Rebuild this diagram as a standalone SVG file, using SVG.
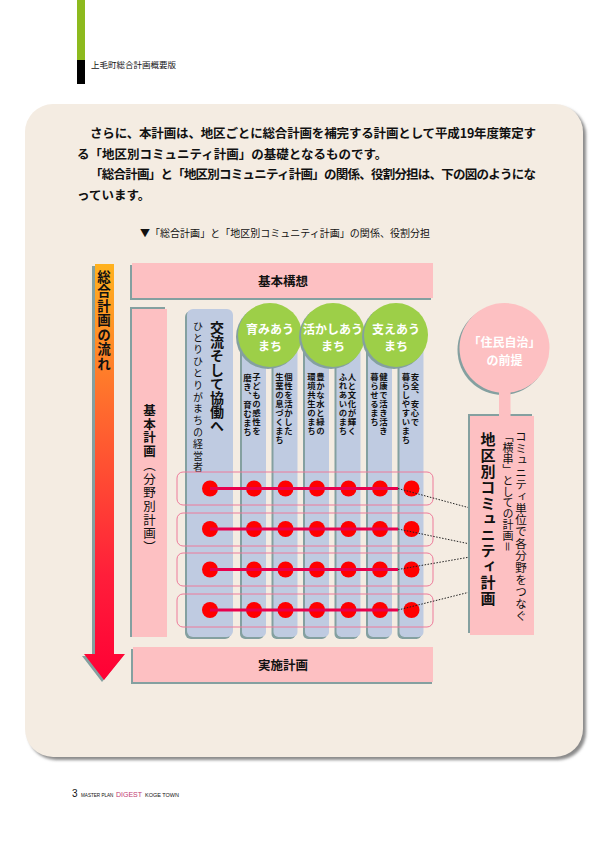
<svg xmlns="http://www.w3.org/2000/svg" width="605" height="842" viewBox="0 0 605 842">
<defs>
  <linearGradient id="flow" x1="0" y1="0" x2="0" y2="1">
    <stop offset="0" stop-color="#FFB21E"/>
    <stop offset="0.35" stop-color="#FF6A2E"/>
    <stop offset="0.75" stop-color="#FF1E3A"/>
    <stop offset="1" stop-color="#FF0035"/>
  </linearGradient>
  <filter id="blur" x="-5%" y="-5%" width="110%" height="110%">
    <feGaussianBlur stdDeviation="1.6"/>
  </filter>
</defs>
<style>
  text { font-family: "Noto Sans CJK JP", "Noto Sans", sans-serif; fill: #111; }
  .v { writing-mode: vertical-rl; }
  .b { font-weight: bold; }
  .pink { fill: #FDC0C2; }
  .blue { fill: #BFCBE1; }
  .green { fill: #9DCF48; }
  .shadow { fill: #84A0A0; }
  .dot { fill: #FF0000; }
  .wt { fill: #FFFFFF; font-weight: bold; font-size: 12px; text-anchor: middle; }
  .sm { font-size: 8.4px; font-weight: bold; letter-spacing: 0.6px; }
  .row { fill: none; stroke: #EE7A9A; stroke-width: 1; }
  .link { stroke: #E8004D; stroke-width: 3; fill: none; }
  .dash { stroke: #222; stroke-width: 1; stroke-dasharray: 1.5 1.5; fill: none; }
  .ft { font-family: "Liberation Sans", sans-serif; }
</style>
<rect width="605" height="842" fill="#FFFFFF"/>

<g id="header">
  <rect x="77" y="0" width="8" height="60" fill="#8DBA1E"/>
  <rect x="77" y="60" width="8" height="24" fill="#000000"/>
  <text x="91" y="68" font-size="8.5">上毛町総合計画概要版</text>
</g>

<g id="panel">
  <rect x="28" y="107" width="558" height="653" rx="28" fill="#8A8A8A" filter="url(#blur)"/>
  <rect x="25" y="104" width="558" height="653" rx="28" fill="#F4ECE2"/>
</g>

<g id="intro" font-size="12.5" font-weight="bold">
  <text x="90" y="138" textLength="446" lengthAdjust="spacing">さらに、本計画は、地区ごとに総合計画を補完する計画として平成19年度策定す</text>
  <text x="77" y="158.5">る「地区別コミュニティ計画」の基礎となるものです。</text>
  <text x="90" y="179" textLength="446" lengthAdjust="spacing">「総合計画」と「地区別コミュニティ計画」の関係、役割分担は、下の図のようにな</text>
  <text x="77" y="199.5">っています。</text>
</g>

<g id="caption">
  <text x="140" y="237" font-size="10" textLength="290" lengthAdjust="spacing">▼「総合計画」と「地区別コミュニティ計画」の関係、役割分担</text>
</g>

<g id="flow-arrow">
  <path class="shadow" d="M92,266 H112 V656 H123 L102,682 L82,656 H92 Z"/>
  <path fill="url(#flow)" d="M95,264 H114 V654 H125 L104,680 L84,654 H95 Z"/>
  <text class="v b" x="104" y="270" font-size="13.5" letter-spacing="1">総合計画の流れ</text>
</g>

<g id="kihon-koso">
  <rect class="shadow" x="130" y="265" width="301" height="35"/>
  <rect class="pink" x="132" y="263" width="301" height="35"/>
  <text class="b" x="283" y="285.5" font-size="12.5" text-anchor="middle">基本構想</text>
</g>

<g id="kihon-keikaku">
  <rect class="shadow" x="130" y="307" width="35" height="330"/>
  <rect class="pink" x="132" y="309" width="35" height="328"/>
  <text class="v" x="149.5" y="404" font-size="12.5" letter-spacing="1.2"><tspan font-weight="bold">基本計画</tspan>（分野別計画）</text>
</g>

<g id="jisshi-keikaku">
  <rect class="shadow" x="131" y="649" width="301" height="35"/>
  <rect class="pink" x="133" y="647" width="300" height="35"/>
  <text class="b" x="283" y="669.5" font-size="12.5" text-anchor="middle">実施計画</text>
</g>

<g id="col-kouryu">
  <rect class="shadow" x="185" y="311" width="46" height="328" rx="6"/>
  <rect class="blue" x="187" y="309" width="46" height="328" rx="6"/>
  <text class="v b" x="217" y="321" font-size="14">交流そして協働へ</text>
  <text class="v" x="198" y="321" font-size="10" letter-spacing="1.8">ひとりひとりがまちの経営者</text>
</g>

<g id="columns">
  <g id="col-2">
    <rect class="shadow" x="240" y="332" width="24" height="307" rx="5"/>
    <rect class="blue" x="242" y="330" width="24" height="307" rx="5"/>
    <text class="v sm" x="256.5" y="373">子どもの感性を</text>
    <text class="v sm" x="247.5" y="374">磨き、育むまち</text>
  </g>
  <g id="col-3">
    <rect class="shadow" x="271.5" y="332" width="24" height="307" rx="5"/>
    <rect class="blue" x="273.5" y="330" width="24" height="307" rx="5"/>
    <text class="v sm" x="288.5" y="373">個性を活かした</text>
    <text class="v sm" x="279.5" y="373">生業の息づくまち</text>
  </g>
  <g id="col-4">
    <rect class="shadow" x="303" y="332" width="24" height="307" rx="5"/>
    <rect class="blue" x="305" y="330" width="24" height="307" rx="5"/>
    <text class="v sm" x="320.5" y="373">豊かな水と緑の</text>
    <text class="v sm" x="311.5" y="373">環境共生のまち</text>
  </g>
  <g id="col-5">
    <rect class="shadow" x="334.5" y="332" width="24" height="307" rx="5"/>
    <rect class="blue" x="336.5" y="330" width="24" height="307" rx="5"/>
    <text class="v sm" x="352" y="373">人と文化が輝く</text>
    <text class="v sm" x="343" y="373">ふれあいのまち</text>
  </g>
  <g id="col-6">
    <rect class="shadow" x="366" y="332" width="24" height="307" rx="5"/>
    <rect class="blue" x="368" y="330" width="24" height="307" rx="5"/>
    <text class="v sm" x="383.5" y="373">健康で活き活き</text>
    <text class="v sm" x="374.5" y="373">暮らせるまち</text>
  </g>
  <g id="col-7">
    <rect class="shadow" x="397.5" y="332" width="24" height="307" rx="5"/>
    <rect class="blue" x="399.5" y="330" width="24" height="307" rx="5"/>
    <text class="v sm" x="415" y="373">安全、安心で</text>
    <text class="v sm" x="406" y="373">暮らしやすいまち</text>
  </g>
</g>

<g id="circle-hagukumi">
  <circle class="shadow" cx="268" cy="337" r="32"/>
  <circle class="green" cx="270" cy="335" r="32"/>
  <text class="wt" x="270" y="333.5">育みあう</text>
  <text class="wt" x="270" y="351">まち</text>
</g>
<g id="circle-ikashi">
  <circle class="shadow" cx="331" cy="337" r="32"/>
  <circle class="green" cx="333" cy="335" r="32"/>
  <text class="wt" x="333" y="333.5" font-size="11.5">活かしあう</text>
  <text class="wt" x="333" y="351">まち</text>
</g>
<g id="circle-sasae">
  <circle class="shadow" cx="394" cy="337" r="32"/>
  <circle class="green" cx="396" cy="335" r="32"/>
  <text class="wt" x="396" y="333.5">支えあう</text>
  <text class="wt" x="396" y="351">まち</text>
</g>

<g id="rows">
  <rect class="row" x="177" y="472" width="256" height="33" rx="6"/>
  <rect class="row" x="177" y="513" width="256" height="33" rx="6"/>
  <rect class="row" x="177" y="553" width="256" height="33" rx="6"/>
  <rect class="row" x="177" y="594" width="256" height="33" rx="6"/>
  <g id="dots">
    <circle class="dot" cx="210" cy="488.5" r="8"/><circle class="dot" cx="254" cy="488.5" r="8"/><circle class="dot" cx="285.5" cy="488.5" r="8"/><circle class="dot" cx="317" cy="488.5" r="8"/><circle class="dot" cx="348.5" cy="488.5" r="8"/><circle class="dot" cx="380" cy="488.5" r="8"/><circle class="dot" cx="411.5" cy="488.5" r="8"/>
    <circle class="dot" cx="210" cy="529" r="8"/><circle class="dot" cx="254" cy="529" r="8"/><circle class="dot" cx="285.5" cy="529" r="8"/><circle class="dot" cx="317" cy="529" r="8"/><circle class="dot" cx="348.5" cy="529" r="8"/><circle class="dot" cx="380" cy="529" r="8"/><circle class="dot" cx="411.5" cy="529" r="8"/>
    <circle class="dot" cx="210" cy="569.5" r="8"/><circle class="dot" cx="254" cy="569.5" r="8"/><circle class="dot" cx="285.5" cy="569.5" r="8"/><circle class="dot" cx="317" cy="569.5" r="8"/><circle class="dot" cx="348.5" cy="569.5" r="8"/><circle class="dot" cx="380" cy="569.5" r="8"/><circle class="dot" cx="411.5" cy="569.5" r="8"/>
    <circle class="dot" cx="210" cy="610" r="8"/><circle class="dot" cx="254" cy="610" r="8"/><circle class="dot" cx="285.5" cy="610" r="8"/><circle class="dot" cx="317" cy="610" r="8"/><circle class="dot" cx="348.5" cy="610" r="8"/><circle class="dot" cx="380" cy="610" r="8"/><circle class="dot" cx="411.5" cy="610" r="8"/>
  </g>
</g>

<g id="connectors">
  <line class="link" x1="210" y1="488.5" x2="398" y2="488.5"/>
  <line class="link" x1="210" y1="529" x2="398" y2="529"/>
  <line class="link" x1="210" y1="569.5" x2="398" y2="569.5"/>
  <line class="link" x1="210" y1="610" x2="398" y2="610"/>
  <line class="dash" x1="398" y1="488.5" x2="470" y2="508"/>
  <line class="dash" x1="398" y1="529" x2="470" y2="544"/>
  <line class="dash" x1="398" y1="569.5" x2="470" y2="557"/>
  <line class="dash" x1="398" y1="610" x2="470" y2="592"/>
</g>

<g id="jumin-jichi">
  <circle class="shadow" cx="502.5" cy="350" r="45"/>
  <circle class="pink" cx="504.5" cy="348" r="45"/>
  <rect class="pink" x="499" y="388" width="11.5" height="30"/>
  <text class="wt" x="504.5" y="347" font-size="12.5">「住民自治」</text>
  <text class="wt" x="504.5" y="365" font-size="12.5">の前提</text>
</g>

<g id="chiku-betsu">
  <rect class="shadow" x="468" y="414" width="64" height="219"/>
  <rect class="pink" x="470" y="416" width="64" height="219"/>
  <rect class="pink" x="499" y="410" width="11.5" height="8"/>
  <text class="v b" x="488" y="432" font-size="15" letter-spacing="0.9">地区別コミュニティ計画</text>
  <text class="v" x="508" y="431" font-size="11">「横串」としての計画＝</text>
  <text class="v" x="521" y="431" font-size="11.5" letter-spacing="0.4">コミュニティ単位で各分野をつなぐ</text>
</g>

<g id="footer">
  <text class="ft" x="72" y="797" font-size="10">3</text>
  <text class="ft" x="81" y="797" font-size="4.6">MASTER PLAN</text>
  <text class="ft" x="116" y="797" font-size="7" style="fill:#C23A72">DIGEST</text>
  <text class="ft" x="145" y="797" font-size="5.5">KOGE TOWN</text>
</g>
</svg>
